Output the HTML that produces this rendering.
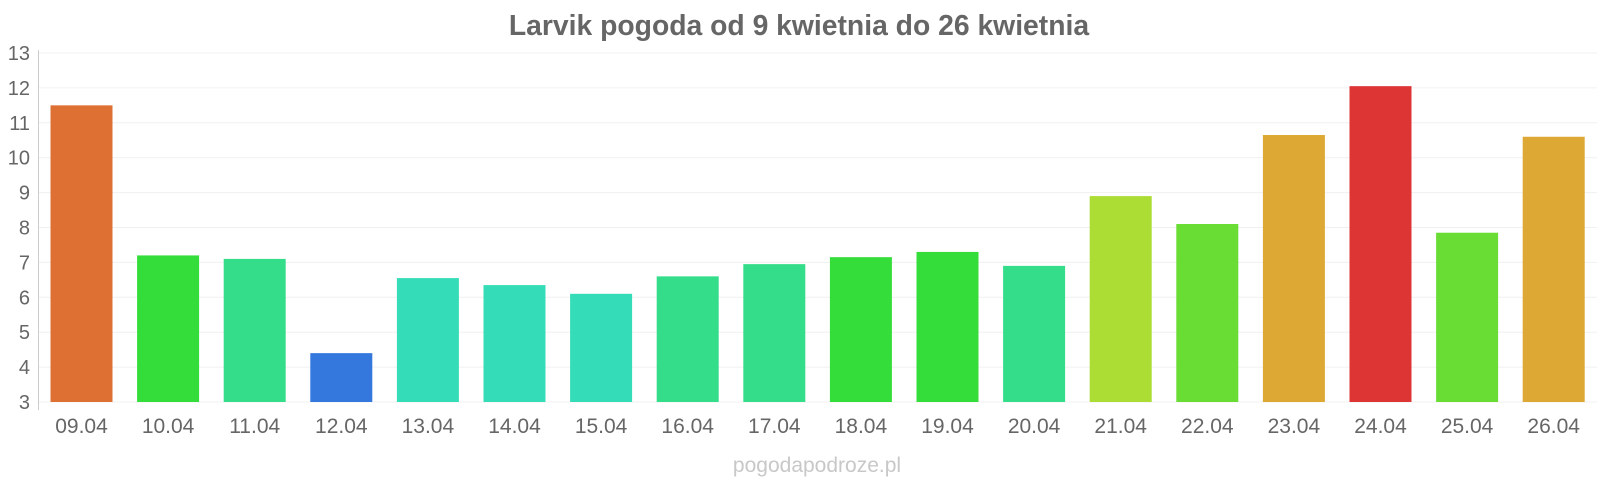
<!DOCTYPE html>
<html><head><meta charset="utf-8"><style>body{margin:0;background:#fff}svg{display:block}</style></head><body>
<svg width="1600" height="480" xmlns="http://www.w3.org/2000/svg" font-family="Liberation Sans, sans-serif">
<text x="799" y="35" text-anchor="middle" font-size="28.3" font-weight="bold" fill="#666">Larvik pogoda od 9 kwietnia do 26 kwietnia</text>
<g id="grid"></g>
<g id="bars"></g>
<line x1="38.5" y1="50" x2="38.5" y2="410" stroke="#ccc"/>
<text x="817" y="472" text-anchor="middle" font-size="21" fill="#c8c8c8">pogodapodroze.pl</text>
<script>
var svg="http://www.w3.org/2000/svg";
function el(t,a,p,txt){var e=document.createElementNS(svg,t);for(var k in a)e.setAttribute(k,a[k]);if(txt)e.textContent=txt;document.getElementById(p).appendChild(e);}
function Y(v){return 53+(13-v)*34.9;}
for(var v=3;v<=13;v++){el('line',{x1:38,x2:1597,y1:Y(v),y2:Y(v),stroke:'#f0f0f0'},'grid');el('text',{x:30,y:Y(v)+7,'text-anchor':'end','font-size':20,fill:'#666'},'grid',String(v));}
var d=[[11.5,'#de7034'],[7.2,'#34dd3a'],[7.1,'#34dd8a'],[4.4,'#3478dd'],[6.55,'#34ddb8'],[6.35,'#34ddb8'],[6.1,'#34ddb8'],[6.6,'#34dd8a'],[6.95,'#34dd8a'],[7.15,'#34dd3a'],[7.3,'#34dd3a'],[6.9,'#34dd8a'],[8.9,'#acdd34'],[8.1,'#69dd34'],[10.65,'#dda934'],[12.05,'#dd3434'],[7.85,'#69dd34'],[10.6,'#dda934']];
for(var i=0;i<18;i++){var c=81.5+i*86.6,t=Y(d[i][0]);el('rect',{x:c-31,y:t,width:62,height:402-t,fill:d[i][1]},'bars');
var day=9+i;el('text',{x:c,y:433,'text-anchor':'middle','font-size':21,fill:'#666'},'bars',(day<10?'0':'')+day+'.04');}
</script>
</svg>
</body></html>
